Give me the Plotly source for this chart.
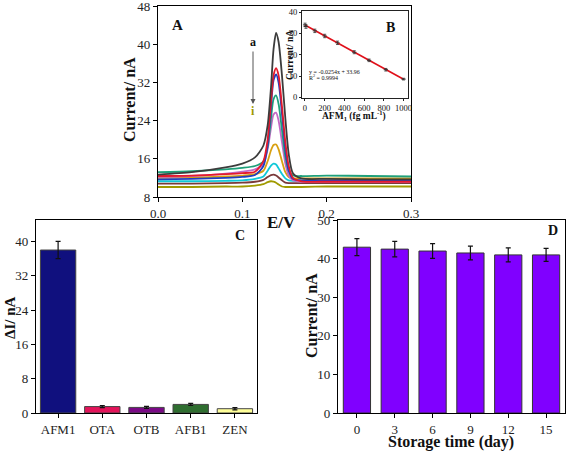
import plotly.graph_objects as go

W, H = 567, 452

# ---------- Panel A data (DPV curves a..i) ----------
E = [0.00, 0.04, 0.08, 0.10, 0.115, 0.125, 0.130, 0.134, 0.137, 0.140,
     0.143, 0.147, 0.151, 0.155, 0.160, 0.170, 0.20, 0.25, 0.30]
curve_a = [12.7, 13.2, 14.2, 15.0, 16.3, 18.8, 23.0, 31.0, 39.0, 42.4,
           40.5, 33.5, 24.5, 17.0, 13.0, 11.9, 11.8, 11.7, 11.7]
curve_b = [12.4, 12.5, 12.8, 13.0, 13.3, 15.5, 20.0, 28.0, 33.5, 35.0,
           33.5, 27.0, 19.5, 14.5, 12.0, 11.3, 11.2, 11.2, 11.2]
curve_c = [11.7, 11.8, 12.0, 12.2, 12.6, 14.5, 19.0, 27.0, 32.5, 33.7,
           32.0, 25.5, 18.0, 13.5, 11.8, 11.5, 11.5, 11.5, 11.5]
curve_d = [13.2, 13.4, 13.8, 14.1, 14.5, 15.5, 18.5, 24.5, 28.5, 29.3,
           27.5, 22.0, 16.5, 13.5, 12.5, 12.4, 12.5, 12.4, 12.3]
curve_e = [12.2, 12.4, 12.9, 13.3, 13.8, 15.0, 18.0, 22.5, 25.3, 25.7,
           24.0, 19.5, 15.0, 12.5, 11.5, 11.2, 11.2, 11.1, 11.1]
curve_f = [12.0, 12.1, 12.3, 12.5, 12.8, 13.5, 15.5, 17.8, 18.9, 19.0,
           18.0, 15.5, 13.2, 12.2, 11.9, 11.9, 11.9, 11.9, 11.9]
curve_g = [11.3, 11.3, 11.4, 11.5, 11.8, 12.3, 13.5, 14.6, 15.0, 14.8,
           14.0, 12.8, 11.9, 11.5, 11.4, 11.4, 11.4, 11.4, 11.4]
curve_h = [10.8, 10.8, 10.9, 11.0, 11.2, 11.6, 12.2, 12.6, 12.7, 12.5,
           12.1, 11.5, 11.0, 10.9, 10.9, 10.9, 10.9, 10.9, 10.9]
curve_i = [10.1, 10.1, 10.2, 10.2, 10.4, 10.7, 11.1, 11.3, 11.2, 11.0,
           10.6, 10.2, 10.1, 10.1, 10.1, 10.1, 10.2, 10.2, 10.2]
curves = [curve_i, curve_h, curve_g, curve_f, curve_e, curve_d, curve_c, curve_b, curve_a]
curve_colors = ["#a09a00", "#7a3a3a", "#10c8d8", "#d8a010", "#c468c4",
                "#1fa07a", "#1f3fbf", "#e41a2c", "#3c3c3c"]
ticks_A = [8, 16, 24, 32, 40, 48]

# ---------- Inset B data (calibration) ----------
conc = [1, 10, 100, 200, 330, 500, 650, 820, 1000]
calib_current = [34.0, 33.2, 31.2, 28.8, 25.6, 21.2, 17.4, 13.0, 8.6]
calib_err = [0.8, 0.8, 0.8, 0.8, 0.8, 0.7, 0.6, 0.6, 0.4]
fit_x = [0, 1000]
fit_y = [33.96, 8.56]

# ---------- Panel C data (selectivity) ----------
toxins = ["AFM1", "OTA", "OTB", "AFB1", "ZEN"]
delta_I = [38.0, 1.5, 1.3, 2.0, 1.0]
delta_err = [2.0, 0.25, 0.25, 0.25, 0.25]
toxin_colors = ["#10107e", "#e3145a", "#7a0a86", "#2f6e30", "#ffff99"]

# ---------- Panel D data (stability) ----------
days = ["0", "3", "6", "9", "12", "15"]
stab_current = [43.0, 42.5, 42.0, 41.5, 41.0, 41.0]
stab_err = [2.2, 2.0, 1.9, 1.8, 1.8, 1.7]

SERIF = "Liberation Serif"
fig = go.Figure()

for ys, col in zip(curves, curve_colors):
    fig.add_trace(go.Scatter(x=E, y=ys, mode="lines", xaxis="x", yaxis="y",
                             line=dict(color=col, width=1.8, shape="spline", smoothing=0.7),
                             showlegend=False, hoverinfo="skip"))

fig.add_trace(go.Scatter(x=fit_x, y=fit_y, mode="lines", xaxis="x2", yaxis="y2",
                         line=dict(color="#e0101a", width=1.6), showlegend=False))
fig.add_trace(go.Scatter(x=conc, y=calib_current, mode="markers", xaxis="x2", yaxis="y2",
                         marker=dict(color="#333", size=3, symbol="line-ew-open",
                                     line=dict(width=1, color="#333")),
                         error_y=dict(type="data", array=calib_err, color="#333",
                                      thickness=0.8, width=1.5),
                         showlegend=False))

fig.add_trace(go.Bar(x=toxins, y=delta_I, xaxis="x3", yaxis="y3", width=0.8,
                     marker=dict(color=toxin_colors, line=dict(color="#444", width=1)),
                     error_y=dict(type="data", array=delta_err, color="#111",
                                  thickness=1.2, width=2.5),
                     showlegend=False))

fig.add_trace(go.Bar(x=days, y=stab_current, xaxis="x4", yaxis="y4", width=0.72,
                     marker=dict(color="#8000ff", line=dict(color="#333", width=1)),
                     error_y=dict(type="data", array=stab_err, color="#111",
                                  thickness=1.2, width=2.5),
                     showlegend=False))


def px(x):
    return x / W


def py(y):
    return 1 - y / H


axis_common = dict(showline=True, linecolor="black", linewidth=1.3, mirror=True,
                   ticks="outside", ticklen=4, tickcolor="black", showgrid=False,
                   zeroline=False, automargin=False, ticklabeloverflow="allow",
                   tickfont=dict(family=SERIF, size=13, color="#222"))

inset_common = dict(showline=True, linecolor="#222", linewidth=1, mirror=True,
                    ticks="outside", ticklen=2, tickcolor="#222", showgrid=False,
                    zeroline=False, automargin=False,
                    tickfont=dict(family=SERIF, size=8.5, color="#111"))

fig.update_layout(
    width=W, height=H, margin=dict(l=0, r=0, t=0, b=0, autoexpand=False),
    paper_bgcolor="white", plot_bgcolor="white", bargap=0.2,
    xaxis=dict(domain=[px(158), px(411)], range=[0, 0.3], tickvals=[0, 0.1, 0.2, 0.3],
               tickformat=".1f", anchor="y", **axis_common),
    yaxis=dict(domain=[py(197), py(6)], range=[8, 48.05], tickvals=ticks_A,
               anchor="x", **axis_common),
    xaxis2=dict(domain=[px(302), px(408)], range=[-30, 1045], dtick=200, anchor="y2",
                **inset_common),
    yaxis2=dict(domain=[py(97.5), py(11)], range=[0, 40.5], dtick=10, anchor="x2",
                **inset_common),
    xaxis3=dict(domain=[px(36), px(257)], range=[-0.5, 4.5], anchor="y3", **axis_common),
    yaxis3=dict(domain=[py(413), py(220)], range=[0, 45], dtick=8, anchor="x3", **axis_common),
    xaxis4=dict(domain=[px(338), px(565)], range=[-0.5, 5.5], anchor="y4", **axis_common),
    yaxis4=dict(domain=[py(413), py(220)], range=[0, 50.05], dtick=10, anchor="x4",
                **axis_common),
)

anns = [
    dict(text="<b>A</b>", x=px(177), y=py(25), size=15),
    dict(text="<b>B</b>", x=px(390), y=py(27), size=14),
    dict(text="<b>C</b>", x=px(240), y=py(235), size=14),
    dict(text="<b>D</b>", x=px(553), y=py(230), size=14),
    dict(text="<b>a</b>", x=px(253), y=py(42), size=12),
    dict(text="<b>i</b>", x=px(253), y=py(111), size=12, color="#a09a00"),
    dict(text="<b>E/V</b>", x=px(281), y=py(222), size=17),
    dict(text="<b>Current/ nA</b>", x=px(129), y=py(100), size=16, angle=-90),
    dict(text="<b>ΔI/ nA</b>", x=px(10), y=py(318), size=15, angle=-90),
    dict(text="<b>Current/ nA</b>", x=px(311), y=py(316), size=16, angle=-90),
    dict(text="<b>Storage time (day)</b>", x=px(451), y=py(442), size=16),
    dict(text="<b>Current/ nA</b>", x=px(290), y=py(55), size=9.5, angle=-90),
    dict(text="<b>AFM<sub>1</sub> (fg mL<sup>-1</sup>)</b>", x=px(354), y=py(115), size=9.5),
]
for a in anns:
    fig.add_annotation(xref="paper", yref="paper", x=a["x"], y=a["y"], text=a["text"],
                       showarrow=False, textangle=a.get("angle", 0),
                       font=dict(family=SERIF, size=a["size"], color=a.get("color", "#111")),
                       xanchor="center", yanchor="middle")

fig.add_annotation(xref="paper", yref="paper", x=px(307), y=py(71.5),
                   text="y = -0.0254x + 33.96", showarrow=False, xanchor="left",
                   yanchor="middle", font=dict(family=SERIF, size=6, color="#111"))
fig.add_annotation(xref="paper", yref="paper", x=px(307), y=py(76.5),
                   text="R<sup>2</sup> = 0.9994", showarrow=False, xanchor="left",
                   yanchor="middle", font=dict(family=SERIF, size=6, color="#111"))

# arrow a -> i
fig.add_annotation(xref="paper", yref="paper", x=px(253), y=py(104),
                   ax=0, ay=-54, axref="pixel", ayref="pixel",
                   showarrow=True, arrowhead=2, arrowsize=1, arrowwidth=1,
                   arrowcolor="#555", text="")

# remove the browser's default 8px body margin so the figure fills the window
fig.write_html("out.html", config={"displayModeBar": False},
               post_script="document.body.style.margin='0px';")
